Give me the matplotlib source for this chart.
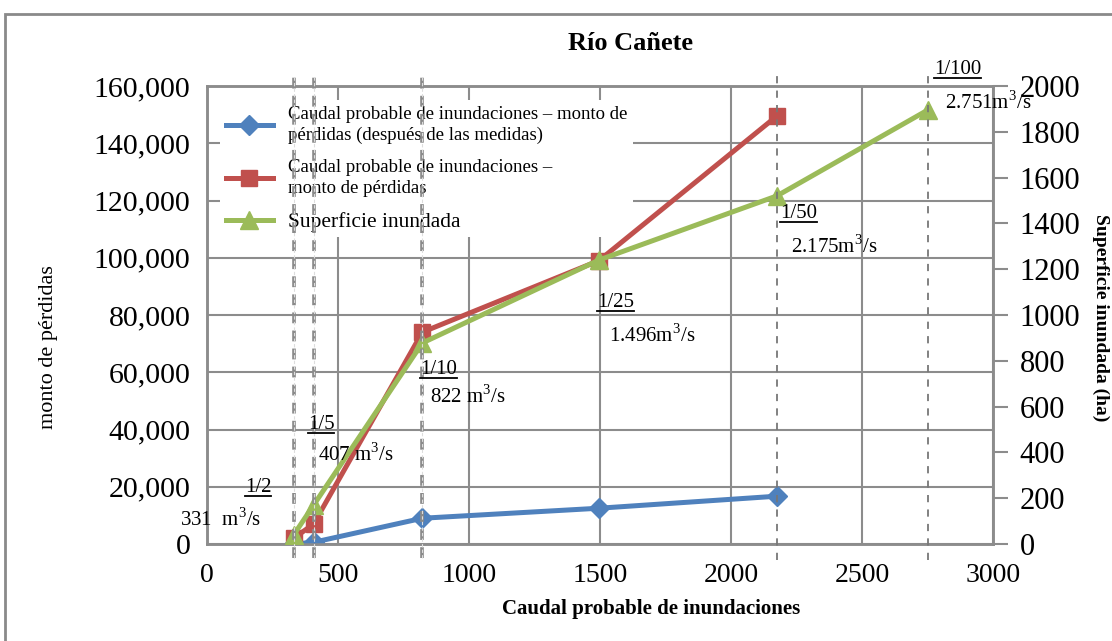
import matplotlib.pyplot as plt
import numpy as np
from matplotlib.lines import Line2D
from matplotlib.patches import Rectangle
from matplotlib.ticker import FuncFormatter

plt.rcParams['font.family'] = ['Liberation Serif', 'DejaVu Serif']
plt.rcParams['mathtext.fontset'] = 'custom'
plt.rcParams['mathtext.rm'] = 'Liberation Serif'

# data
caudal = [331, 407, 822, 1496, 2175]
perdidas_despues = [0, 600, 9000, 12500, 16700]
perdidas = [2000, 7000, 74000, 99000, 149500]
caudal_sup = [331, 407, 822, 1496, 2175, 2751]
superficie = [40, 170, 878, 1240, 1520, 1895]

periodos = ['1/2', '1/5', '1/10', '1/25', '1/50', '1/100']
caudal_txt = ['331  m$^3$/s', '407 m$^3$/s', '822 m$^3$/s', '1.496m$^3$/s',
              '2.175m$^3$/s', '2.751m$^3$/s']

serie_labels = ['Caudal probable de inundaciones \u2013 monto de\np\u00e9rdidas (despu\u00e9s de las medidas)',
                'Caudal probable de inundaciones \u2013\nmonto de p\u00e9rdidas',
                'Superficie inundada']

# label anchors (data coords on left axis)
per_pos = [(145, 19600), (385, 41600), (812, 60800), (1490, 84500), (2188, 115600), (2775, 165600)]
txt_pos = [(-103, 8400), (423, 31100), (850, 51400), (1536, 73000), (2230, 104100), (2817, 154100)]

c_blue = '#4F81BD'
c_red = '#C0504D'
c_green = '#9BBB59'
grey = '#8c8c8c'

fig = plt.figure(figsize=(11.12, 6.41), dpi=100)
ax = fig.add_axes([207 / 1112, 1 - 544 / 641, 786 / 1112, 458 / 641])
ax2 = ax.twinx()

# outer frame of the chart area
fig.patches.append(Rectangle((5 / 1112, -0.1), 1.2, 1.1 - 14 / 641, transform=fig.transFigure,
                             fill=False, edgecolor='#8a8a8a', linewidth=2))

ax.set_xlim(0, 3000)
ax.set_ylim(0, 160000)
ax2.set_ylim(0, 2000)
ax.set_xticks(np.arange(0, 3001, 500))
ax.set_yticks(np.arange(0, 160001, 20000))
ax2.set_yticks(np.arange(0, 2001, 200))
ax.yaxis.set_major_formatter(FuncFormatter(lambda v, p: f'{int(v):,}'))
ax.grid(True, color=grey, linewidth=1.5)
ax.set_axisbelow(True)

for a in (ax, ax2):
    for s in a.spines.values():
        s.set_color(grey)
        s.set_linewidth(1.8)
ax.tick_params(axis='y', labelsize=21.5, length=0, pad=12)
ax.tick_params(axis='x', labelsize=20, length=0, pad=14)
ax2.tick_params(axis='y', labelsize=22, color=grey, width=1.5, length=11, pad=8)

ax.plot(caudal, perdidas_despues, color=c_blue, lw=3.6, marker='D', ms=10, zorder=5)
ax.plot(caudal, perdidas, color=c_red, lw=3.6, marker='s', ms=12, zorder=6)
ax2.plot(caudal_sup, superficie, color=c_green, lw=3.6, marker='^', ms=13, zorder=6)

# return period marker lines
for i, q in enumerate(caudal_sup):
    if i < 3:
        ax2.plot([q, q], [-60, 2050], color='#8a8a8a', lw=2.6, ls=(0, (3, 2)), clip_on=False, zorder=8)
        ax2.plot([q, q], [-60, 2050], color='#dddddd', lw=0.8, ls=(0, (3, 2)), clip_on=False, zorder=8)
    elif i >= 4:
        ax2.plot([q, q], [-70, 2050], color='#777777', lw=1.3, ls=(0, (4, 4)), clip_on=False, zorder=8)

per_texts = []
for i in range(len(periodos)):
    t = ax2.text(per_pos[i][0], per_pos[i][1] / 80, periodos[i],
                 fontsize=15, ha='left', va='center', clip_on=False, zorder=9)
    per_texts.append(t)
    ax2.text(txt_pos[i][0], txt_pos[i][1] / 80, caudal_txt[i], fontsize=15, ha='left',
             va='center', clip_on=False, zorder=9)

# legend sits on the left axes, under the data lines
handles = [Line2D([], [], color=c_blue, lw=3.6, marker='D', ms=10),
           Line2D([], [], color=c_red, lw=3.6, marker='s', ms=12),
           Line2D([], [], color=c_green, lw=3.6, marker='^', ms=13)]
leg = ax.legend(handles, serie_labels, loc='upper left', bbox_to_anchor=(0.005, 0.99),
                frameon=True, facecolor='white', edgecolor='none', framealpha=1,
                fontsize=13.5, handlelength=2.5, labelspacing=0.8, borderpad=0.3,
                handletextpad=0.8)
for t in leg.get_texts()[:2]:
    t.set_linespacing(1.3)
leg.get_texts()[2].set_fontsize(15.5)
leg.set_zorder(4)

ax.set_title('R\u00edo Ca\u00f1ete', fontsize=19, fontweight='bold', pad=26,
             x=(630 - 207) / 786)
ax.set_xlabel('Caudal probable de inundaciones', fontsize=15, fontweight='bold')
ax.xaxis.set_label_coords((651 - 207) / 786, -(599 - 544) / 458)
ax.set_ylabel('monto de p\u00e9rdidas', fontsize=16)
ax.yaxis.set_label_coords(-(207 - 58) / 786, (544 - 347) / 458)
fig.text(1101 / 1112, 1 - 318 / 641, 'Superficie inundada (ha)', rotation=270, fontsize=14,
         fontweight='bold', ha='center', va='center')

# underline the return period labels
fig.canvas.draw()
renderer = fig.canvas.get_renderer()
for t in per_texts:
    bb = t.get_window_extent(renderer)
    y = bb.y0 + 1
    fig.add_artist(Line2D([bb.x0 / 1112, bb.x1 / 1112], [y / 641, y / 641],
                          transform=fig.transFigure, color='black', lw=1.3))

plt.savefig('out.png', dpi=100)
plt.close()
